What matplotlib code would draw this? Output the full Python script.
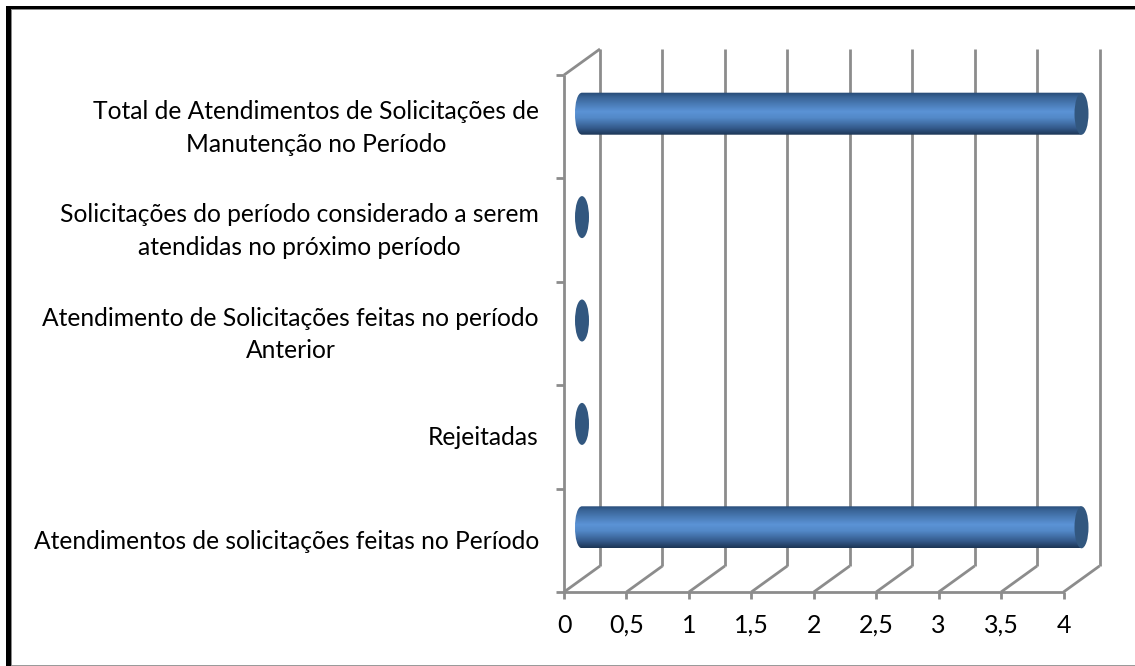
import matplotlib
matplotlib.use('Agg')
import matplotlib.pyplot as plt
from matplotlib.patches import Ellipse, Rectangle, PathPatch
from matplotlib.path import Path
from matplotlib.colors import LinearSegmentedColormap
from matplotlib.transforms import Affine2D
import numpy as np

plt.rcParams['font.family'] = ['Lato', 'DejaVu Sans']

categories = [
    'Atendimentos de solicitações feitas no Período',
    'Rejeitadas',
    'Atendimento de Solicitações feitas no período\nAnterior',
    'Solicitações do período considerado a serem\natendidas no próximo período',
    'Total de Atendimentos de Solicitações de\nManutenção no Período',
]
values = [4, 0, 0, 0, 4]
x_ticks = [0, 0.5, 1, 1.5, 2, 2.5, 3, 3.5, 4]
x_labels = ['0', '0,5', '1', '1,5', '2', '2,5', '3', '3,5', '4']

W, H = 1135, 666
x0_px, x4_px = 564, 1063.5
floor_px, top_px = 592, 75
depth_x, depth_y = 36, 26  # px, the fake 3d offset
grid_color = '#8c8c8c'
cap_color = '#32577f'

fig = plt.figure(figsize=(W / 100, H / 100), dpi=100)
ax = fig.add_axes([x0_px / W, 1 - floor_px / H, (x4_px - x0_px) / W, (floor_px - top_px) / H])
ax.set_xlim(0, 4)
ax.set_ylim(0, len(categories))
ax.set_axis_off()

px_x = 4 / (x4_px - x0_px)
px_y = len(categories) / (floor_px - top_px)
back = ax.transData + Affine2D().translate(depth_x, depth_y)
mid = ax.transData + Affine2D().translate(depth_x / 2, depth_y / 2)

line = dict(color=grid_color, lw=2, solid_capstyle='butt', clip_on=False)

# back wall gridlines and floor diagonals
for t in x_ticks:
    ax.plot([t, t], [0, len(categories)], transform=back, zorder=1, **line)
    ax.plot([t, t + depth_x * px_x], [0, depth_y * px_y], zorder=1, **line)

# front left wall and floor
ax.plot([0, 0], [0, len(categories)], zorder=2, **line)
ax.plot([0, 4], [0, 0], zorder=2, **line)
ax.plot([0, depth_x * px_x], [len(categories), len(categories) + depth_y * px_y], zorder=2, **line)

# tick marks
for t in x_ticks:
    ax.plot([t, t], [0, -7 * px_y], zorder=2, **line)
for i in range(len(categories) + 1):
    ax.plot([-8 * px_x, 0], [i, i], zorder=2, **line)

# cylinders
cmap = LinearSegmentedColormap.from_list('cyl', [
    (0, '#264a75'), (0.12, '#3a6598'), (0.45, '#5b93d6'), (0.6, '#5389c8'),
    (0.85, '#33598a'), (1, '#1d3656')])
grad = np.linspace(0, 1, 64).reshape(-1, 1)
cap_w = 14 * px_x
cap_h = 42 * px_y
for i, v in enumerate(values):
    yc = i + 0.5
    if v > 0:
        verts = [(0, yc - cap_h / 2), (v, yc - cap_h / 2), (v, yc + cap_h / 2), (0, yc + cap_h / 2),
                 (-cap_w * 0.67, yc + cap_h / 2), (-cap_w * 0.67, yc - cap_h / 2), (0, yc - cap_h / 2)]
        codes = [Path.MOVETO, Path.LINETO, Path.LINETO, Path.LINETO, Path.CURVE4, Path.CURVE4, Path.CURVE4]
        body = PathPatch(Path(verts, codes), transform=mid, fc='none', ec='none', zorder=3)
        ax.add_patch(body)
        im = ax.imshow(grad, cmap=cmap, aspect='auto', origin='upper', zorder=3,
                       extent=(-cap_w, v, yc - cap_h / 2, yc + cap_h / 2), transform=mid)
        im.set_clip_box(fig.bbox)
        im.set_clip_path(body)
    ax.add_patch(Ellipse((v, yc), cap_w, cap_h, transform=mid, fc=cap_color, ec='none', zorder=4, clip_on=False))
ax.set_xlim(0, 4)
ax.set_ylim(0, len(categories))

# labels
for i, c in enumerate(categories):
    ax.annotate(c, xy=(0, i + 0.5), xytext=(-25, -1), textcoords='offset pixels', ha='right', va='center',
                multialignment='center', fontsize=17.75, color='black', annotation_clip=False, linespacing=1.52)
for t, s in zip(x_ticks, x_labels):
    ax.annotate(s, xy=(t, 0), xytext=(0, -41), textcoords='offset pixels', ha='center', va='baseline',
                fontsize=18, color='black', annotation_clip=False)

# picture frame
fig.add_artist(Rectangle((11 / W, 1 - 10 / H), 1124 / W, 1 / H, transform=fig.transFigure, fc='#8a8a8a', ec='none'))
fig.add_artist(Rectangle((11 / W, 0), 1 / W, 1 - 9 / H, transform=fig.transFigure, fc='#8a8a8a', ec='none'))
fig.add_artist(Rectangle((6 / W, 1 - 9 / H), 1129 / W, 3 / H, transform=fig.transFigure, fc='black', ec='none'))
fig.add_artist(Rectangle((6 / W, 0), 5 / W, 1 - 6 / H, transform=fig.transFigure, fc='black', ec='none'))
fig.add_artist(Rectangle((12 / W, 0), 1123 / W, 1.5 / H, transform=fig.transFigure, fc='#9a9a9a', ec='none'))

fig.savefig('out.png', dpi=100)
